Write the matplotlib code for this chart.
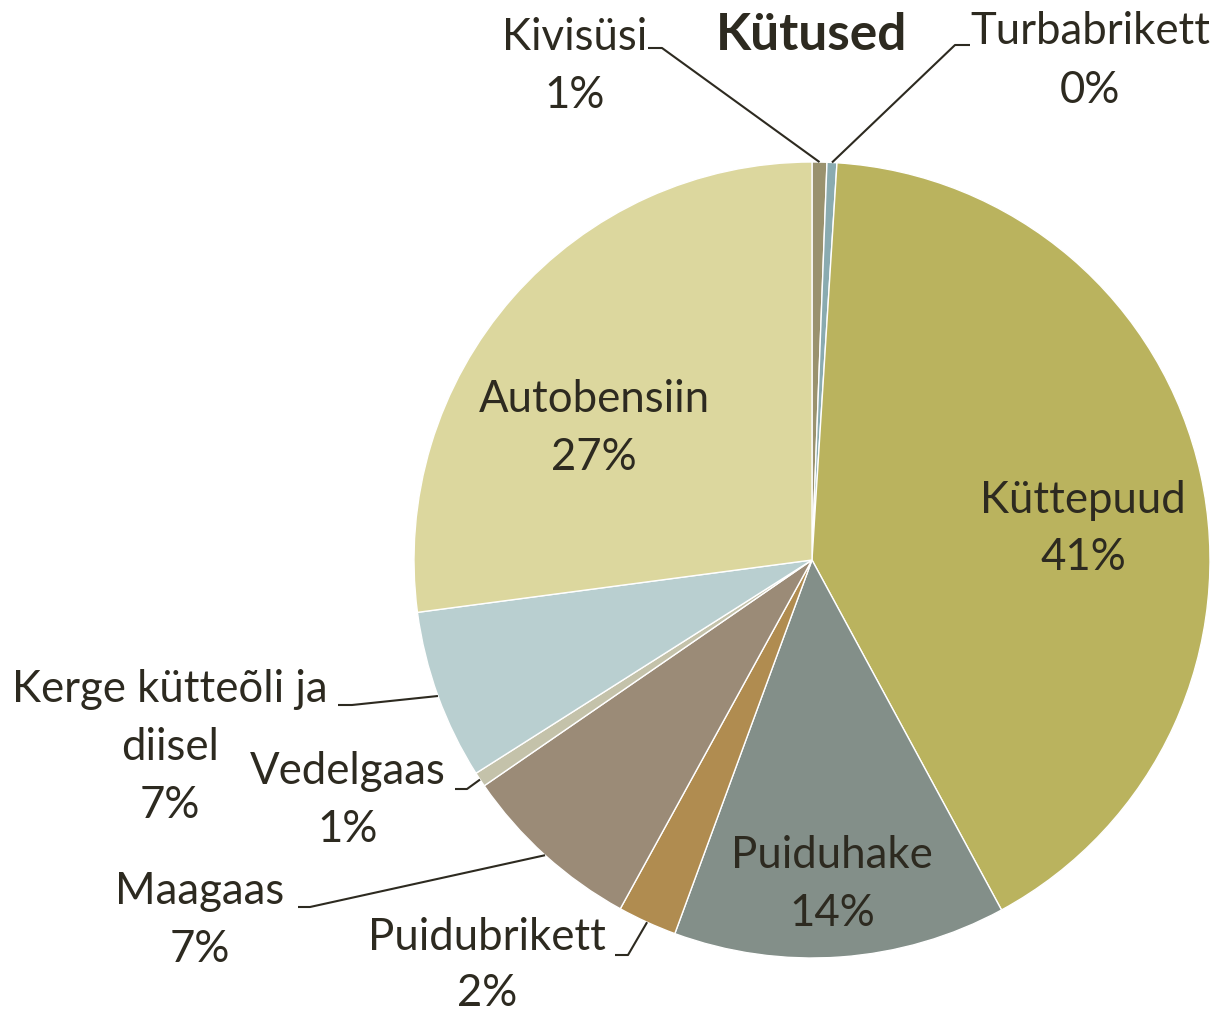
import numpy as np
import matplotlib
matplotlib.use("Agg")
import matplotlib.pyplot as plt

plt.rcParams['font.family'] = ['Lato', 'DejaVu Sans']

title = "Kütused"
labels = ["Kivisüsi", "Turbabrikett", "Küttepuud", "Puiduhake", "Puidubrikett",
          "Maagaas", "Vedelgaas", "Kerge kütteõli ja\ndiisel", "Autobensiin"]
values = [0.6, 0.4, 41.1, 13.5, 2.4, 7.4, 0.6, 6.9, 27.1]
pct_labels = ["1%", "0%", "41%", "14%", "2%", "7%", "1%", "7%", "27%"]
colors = ["#9a926e", "#8aabb0", "#bab35e", "#838f89", "#b08c50",
          "#9b8b77", "#c4c2aa", "#b9cfd0", "#dcd79e"]

W, H = 1215, 1015
CX, CY, R = 812, 560, 398

fig = plt.figure(figsize=(W / 100, H / 100), dpi=100)
ax = fig.add_axes([0, 0, 1, 1])
ax.set_aspect('equal')
ax.axis('off')

wedges, _ = ax.pie(values, colors=colors, startangle=90, counterclock=False,
                   radius=1.0, center=(0, 0),
                   wedgeprops=dict(edgecolor='white', linewidth=1.0))
ax.set_xlim(-CX / R, (W - CX) / R)
ax.set_ylim(-(H - CY) / R, CY / R)


def px(x, y):
    return ((x - CX) / R, (CY - y) / R)


txt_color = "#2d2a20"
fs = 31.5
LS = 58  # line step in px

# label layout: (center x px, first-line y px), leader: None or (start px, elbow px)
layout = {
    0: ((575, 37), ((648, 48), (662, 48))),
    1: ((1090, 32), ((970, 45), (955, 45))),
    2: ((1083, 500), None),
    3: ((832, 856), None),
    4: ((487, 938), ((615, 955), (628, 955))),
    5: ((200, 891), ((298, 907), (310, 907))),
    6: ((348, 771), ((455, 789), (467, 789))),
    7: ((170, 690), ((338, 705), (352, 705))),
    8: ((594, 399), None),
}

for i, w in enumerate(wedges):
    (tx, ty), leader = layout[i]
    lines = labels[i].split("\n") + [pct_labels[i]]
    step = LS if i != 4 else 55
    for k, line in enumerate(lines):
        ax.text(*px(tx, ty + k * step), line, ha='center', va='center',
                fontsize=fs, color=txt_color)
    if leader is not None:
        mid = np.deg2rad((w.theta1 + w.theta2) / 2)
        tip = (np.cos(mid) * 1.0, np.sin(mid) * 1.0)
        p0 = px(*leader[0])
        p1 = px(*leader[1])
        ax.plot([p0[0], p1[0], tip[0]], [p0[1], p1[1], tip[1]],
                color=txt_color, lw=1.5, solid_capstyle='butt')

ax.text(*px(812, 35), title, ha='center', va='center', fontsize=37,
        fontweight='bold', color=txt_color)

fig.savefig("out.png", dpi=100)
